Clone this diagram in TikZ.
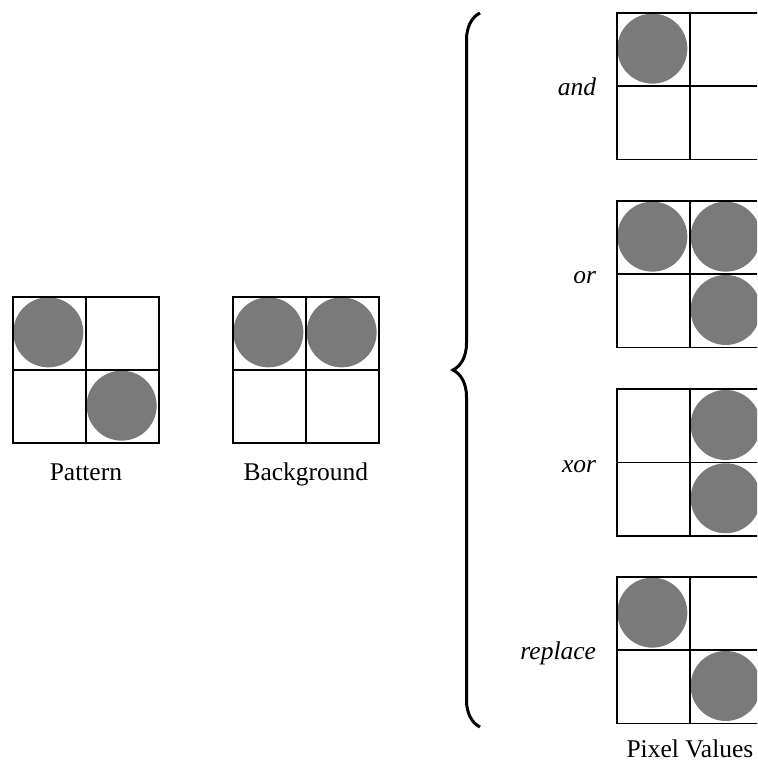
\documentclass[tikz,border=0pt]{standalone}
\usepackage{fontspec}
\setmainfont{Liberation Serif}
\usetikzlibrary{positioning}
\usetikzlibrary{decorations.pathreplacing}
\definecolor{dotgray}{RGB}{122,122,122}
\def\cs{73.3pt}
\def\dotradius{35pt}
\def\gridline{1.8pt}
\tikzset{
    box/.style = {
        draw, rectangle, minimum size=2*\cs, inner sep=0pt, line width=\gridline
    },
    oplabel/.style = {font=\fontsize{25.5}{30}\selectfont\itshape, anchor=base east, inner sep=0pt},
    caption/.style = {anchor=base, inner sep=0pt},
    Pixels/.pic = {
        \foreach \r/\c in {#1}{
            \fill[dotgray] ({(\c-0.5)*\cs}, {-(\r-0.5)*\cs}) circle (\dotradius);
        }
        \node [box, anchor=north west](-edge) at (0,0) {};
        \draw[line width=\gridline] (-edge.north) -- (-edge.south);
        \draw[line width=\gridline] (-edge.west) -- (-edge.east);
    },
}

\begin{document}
\begin{tikzpicture}[x=1pt, y=-1pt, every node/.style={font=\fontsize{25.5}{30}\selectfont}]
        \useasboundingbox (0,0) rectangle (757,762);
        \clip (0,0) rectangle (757,762);
        % Place the grids
        \pic (pat) at (11.7,295.7) {Pixels={1/1,2/2}};
        \pic (bg) at (231.7,295.7) {Pixels={1/1,1/2}};
        \pic (and) at (615.7,12) {Pixels={1/1}};
        \pic (or) at (615.7,200) {Pixels={1/1,1/2,2/2}};
        \pic (xor) at (615.7,388.3) {Pixels={1/2,2/2}};
        \pic (rep) at (615.7,576) {Pixels={1/1,2/2}};

        % Captions
        \node[caption] (patlabel) at ([yshift=-36.5pt] pat-edge.south) {Pattern};
        \node[caption] (bglabel) at ([yshift=-36.5pt] bg-edge.south) {Background};
        \node[caption] (pixlabel) at ([yshift=-33pt] rep-edge.south) {Pixel Values};

        % Operation labels
        \foreach \op/\txt in {and/and, or/or, xor/xor, rep/replace}{
            \node[oplabel] (\op label) at ([xshift=-19.5pt, yshift=-9.5pt] \op-edge.west) {\txt};
        }

        % Draw the brace
        \coordinate (bbot) at (480,727);
        \coordinate (btop) at (480,13);
        \draw[line width=3pt, decorate, decoration={brace, amplitude=27pt}] (bbot) -- (btop);
    \end{tikzpicture}
\end{document}
